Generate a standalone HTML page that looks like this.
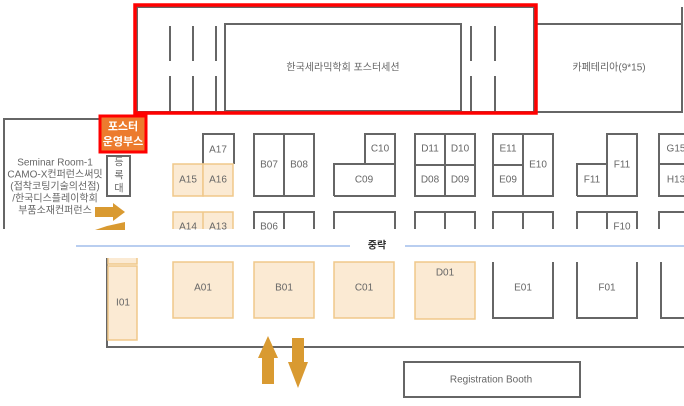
<!DOCTYPE html><html><head><meta charset="utf-8"><style>body{margin:0;background:#fff}svg{display:block}text{font-family:"Liberation Sans","Noto Sans CJK KR",sans-serif;fill:#666;font-size:10px;text-anchor:middle;dominant-baseline:middle}</style></head><body>
<svg width="684" height="406" viewBox="0 0 684 406">
<g fill="none" stroke="#666" stroke-width="2">
<rect x="137" y="7" width="397" height="105"/>
<rect x="225" y="24" width="236" height="87"/>
<path d="M170 26V61M193 26V61M216 26V61M170 76V111M193 76V111M216 76V111M471 26V61M495 26V61M471 76V111M495 76V111"/>
<path d="M537 24H682V112H537M682 7V112"/>
<path d="M4 229V119H140"/>
<rect x="107" y="156" width="23" height="40" fill="#fff"/>
<path d="M203 164V134H234V164"/>
<rect x="254" y="134" width="30" height="62"/><rect x="284" y="134" width="30" height="62"/>
<path d="M334 196V164H365V134H395V196H334M365 164H395"/>
<rect x="415" y="134" width="30" height="31"/><rect x="445" y="134" width="30" height="31"/><rect x="415" y="165" width="30" height="31"/><rect x="445" y="165" width="30" height="31"/>
<rect x="493" y="134" width="30" height="31"/><rect x="493" y="165" width="30" height="31"/><rect x="523" y="134" width="30" height="62"/>
<path d="M577 196V164H607V134H637V196H577M607 164V196"/>
<path d="M684 134H659V196H684M659 164H684"/>
<path d="M254 229V212H314V229M284 212V229M334 229V212H395V229M415 229V212H475V229M445 212V229M493 229V212H553V229M523 212V229M577 229V212H637V229M607 212V229M684 212H659V229"/>
<path d="M493 262V318H553V262M577 262V318H637V262M661 262V318H684"/>
<path d="M107 258V347H684"/>
<rect x="404" y="362" width="176" height="35"/>
</g>
<rect x="135" y="5" width="401" height="108" fill="none" stroke="#f00" stroke-width="3.5"/>
<g fill="#fbead3" stroke="#f0c88a" stroke-width="1.5">
<rect x="173" y="164" width="30" height="32"/><rect x="203" y="164" width="30" height="32"/>
<path d="M173 229V212H233V229M203 212V229"/>
<path d="M108 258V264H137V258" /><rect x="108" y="266" width="29" height="74"/>
<rect x="173" y="262" width="60" height="56"/><rect x="254" y="262" width="60" height="56"/><rect x="334" y="262" width="60" height="56"/><rect x="415" y="262" width="60" height="57"/>
</g>
<rect x="100" y="116" width="46" height="36" fill="#ec7b2e" stroke="#f00" stroke-width="3"/>
<text x="123" y="127" style="fill:#fff;font-size:11px;font-weight:bold">포스터</text>
<text x="123" y="142" style="fill:#fff;font-size:11px;font-weight:bold">운영부스</text>
<rect x="0" y="230" width="684" height="28" fill="#fff"/>
<path d="M76 246H350M405 246H684" stroke="#8fb0e8" stroke-width="1.2"/>
<text x="377" y="246" style="fill:#333;font-weight:bold">중략</text>
<g fill="#d99a31">
<path d="M95 207H113V203L125 212L113 221V217H95Z"/>
<path d="M125 222V230H95L107 226Z"/>
<path d="M262 384V358H258L268 336L278 358H274V384Z"/>
<path d="M292 338V362H288L298 388L308 362H304V338Z"/>
</g>
<text x="343" y="68">한국세라믹학회 포스터세션</text>
<text x="609" y="68">카페테리아(9*15)</text>
<g style="font-size:9px"><text x="55" y="163">Seminar Room-1</text><text x="55" y="175">CAMO-X컨퍼런스써밋</text><text x="55" y="187">(접착코팅기술의선점)</text><text x="55" y="199">/한국디스플레이학회</text><text x="55" y="211">부품소재컨퍼런스</text></g>
<text x="119" y="163">등</text><text x="119" y="176">록</text><text x="119" y="189">대</text>
<text x="218" y="150">A17</text><text x="269" y="165">B07</text><text x="299" y="165">B08</text>
<text x="380" y="149">C10</text><text x="364" y="180">C09</text>
<text x="430" y="149">D11</text><text x="460" y="149">D10</text><text x="430" y="180">D08</text><text x="460" y="180">D09</text>
<text x="508" y="149">E11</text><text x="508" y="180">E09</text><text x="538" y="165">E10</text>
<text x="592" y="180">F11</text><text x="622" y="165">F11</text>
<text x="676" y="149">G15</text><text x="676" y="180">H13</text>
<text x="269" y="227">B06</text><text x="622" y="227">F10</text>
<g style="fill:#f0c88a"><text x="188" y="180">A15</text><text x="218" y="180">A16</text><text x="188" y="227">A14</text><text x="218" y="227">A13</text>
<text x="123" y="303">I01</text><text x="203" y="288">A01</text><text x="284" y="288">B01</text><text x="364" y="288">C01</text><text x="445" y="273">D01</text></g>
<text x="523" y="288">E01</text><text x="607" y="288">F01</text>
<text x="491" y="380">Registration Booth</text>
</svg></body></html>
